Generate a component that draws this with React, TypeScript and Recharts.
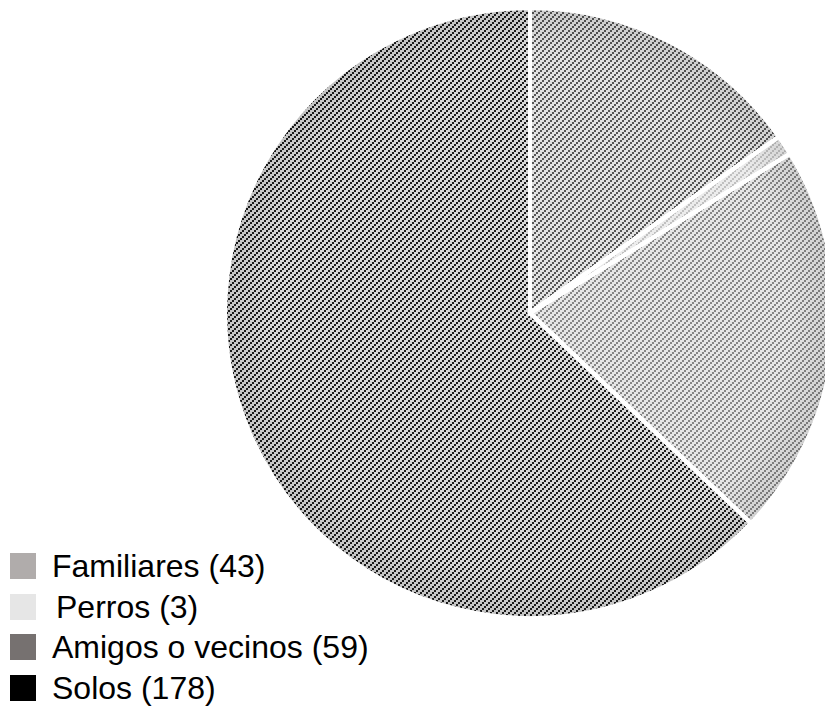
import { PieChart, Pie, Cell } from 'recharts'

const labels = ['Familiares', 'Perros', 'Amigos o vecinos', 'Solos']
const counts = [43, 3, 59, 178]
const legendColors = ['#b0acab', '#e6e6e6', '#767170', '#000000']

// hatch fill for each slice: background + line colour
const hatchBg = ['#e2e2e2', '#ececec', '#e6e6e6', '#d8d8d8']
const hatchInk = ['#555555', '#c0c0c0', '#858585', '#1c1c1c']

const data = labels.map((name, i) => ({ name, value: counts[i] }))

// legend rows (square top, text x offset)
const rowTops = [553, 594, 634, 675]
const textLeft = [52, 56, 52, 52]

// "/" diagonal hatch made of 2x2 blocks, lines 6px apart
const HATCH = 'M4,0h2v2h-2z M2,2h2v2h-2z M0,4h2v2h-2z'

export default function App() {
  return (
    <div style={{ position: 'absolute', left: 0, top: 0, width: 825, height: 717, overflow: 'hidden', background: '#fff' }}>
      <PieChart width={825} height={717} margin={{ top: 0, right: 0, bottom: 0, left: 0 }}>
        <defs>
          {hatchBg.map((bg, i) => (
            <pattern key={i} id={`hatch${i}`} patternUnits="userSpaceOnUse" width={6} height={6}>
              <rect width={6} height={6} fill={bg} />
              <path d={HATCH} fill={hatchInk[i]} shapeRendering="crispEdges" />
            </pattern>
          ))}
          <radialGradient id="rim" cx="530" cy="313" r="305" gradientUnits="userSpaceOnUse">
            <stop offset="0.85" stopColor="#000" stopOpacity={0} />
            <stop offset="1" stopColor="#000" stopOpacity={0.1} />
          </radialGradient>
        </defs>
        <Pie
          data={data}
          dataKey="value"
          nameKey="name"
          cx={530}
          cy={313}
          outerRadius={305}
          startAngle={90}
          endAngle={-270}
          stroke="#ffffff"
          strokeWidth={4}
          isAnimationActive={false}
        >
          {data.map((_, i) => (
            <Cell key={i} fill={`url(#hatch${i})`} />
          ))}
        </Pie>
        <Pie
          data={data}
          dataKey="value"
          cx={530}
          cy={313}
          outerRadius={305}
          startAngle={90}
          endAngle={-270}
          stroke="#ffffff"
          strokeWidth={4}
          fill="url(#rim)"
          legendType="none"
          isAnimationActive={false}
        />
      </PieChart>
      {labels.map((name, i) => (
        <div key={name} style={{ position: 'absolute', left: 10, top: rowTops[i], height: 26, display: 'flex', alignItems: 'center' }}>
          <div style={{ width: 26, height: 26, background: legendColors[i] }} />
          <span
            style={{
              position: 'absolute',
              left: textLeft[i] - 10,
              top: -5,
              fontFamily: '"Liberation Sans", Arial, sans-serif',
              fontSize: 32,
              lineHeight: '36px',
              color: '#000',
              whiteSpace: 'nowrap',
            }}
          >
            {`${name} (${counts[i]})`}
          </span>
        </div>
      ))}
    </div>
  )
}
